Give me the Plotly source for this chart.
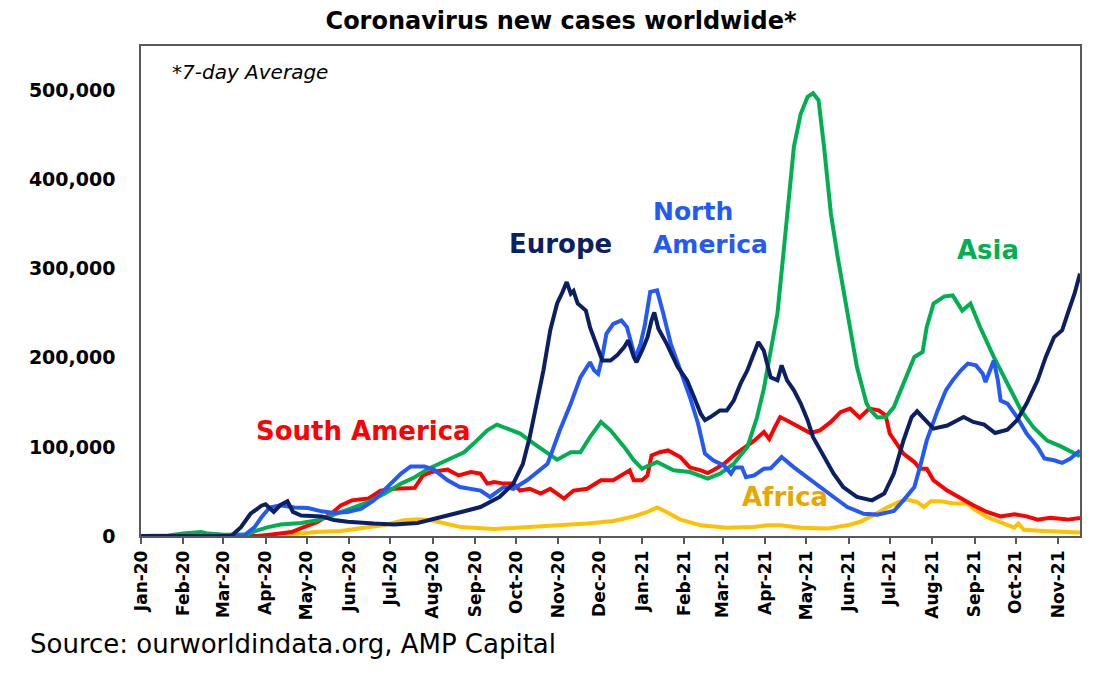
import numpy as np
import pandas as pd
import plotly.graph_objects as go

# 7-day average new cases, values in thousands, x as days since 1 Jan 2020
START = pd.Timestamp("2020-01-01")

europe_day = [0, 66, 73, 80, 88, 91, 97, 102, 107, 111, 117, 132, 141, 151, 170, 185, 202, 219, 234, 248,
              262, 272, 279, 284, 289, 294, 299, 304, 308, 311, 314, 316, 319, 325, 328, 333, 337, 343, 348, 353,
              356, 360, 362, 366, 370, 373, 375, 378, 384, 392, 399, 404, 409, 412, 416, 423, 428, 433, 438, 443,
              448, 451, 455, 460, 465, 468, 472, 477, 482, 487, 491, 499, 506, 513, 523, 534, 543, 550, 557, 563,
              567, 572, 579, 589, 601, 608, 616, 624, 633, 640, 647, 655, 661, 667, 673, 677, 682, 686]
europe_val = [0, 0, 10, 25, 34, 35.5, 27, 35, 39, 27, 23, 22, 18, 16, 14, 13, 14.6, 20.6, 27, 32.5,
              43.8, 58.8, 81, 111, 148.6, 186, 231, 261, 274, 285, 272, 275, 261, 253, 234.5, 212, 197, 197, 203, 212,
              219.6, 201, 195, 208, 223, 242, 251, 232.7, 216, 190, 174.7, 156, 137, 130, 133.5, 141, 141, 152, 171, 186,
              204.7, 217.7, 208, 178, 174.7, 191.5, 174.7, 163.5, 148.6, 130, 111, 88.8, 70, 55, 43.8, 40, 47.6, 70, 107, 133.5,
              140, 131.7, 120.5, 124, 133.5, 128, 125, 115.6, 119.4, 130, 148.6, 174.7, 201, 223, 231, 249.6, 272, 294.5]

na_day = [0, 75, 83, 88, 94, 102, 112, 122, 132, 141, 151, 161, 170, 180, 190, 197, 207, 214, 224, 233,
          248, 255, 265, 272, 282, 297, 306, 314, 321, 328, 331, 334, 337, 340, 345, 351, 355, 359, 361, 365,
          368, 372, 377, 381, 387, 394, 401, 407, 412, 418, 426, 431, 434, 439, 442, 448, 455, 460, 468, 477,
          487, 496, 506, 516, 528, 538, 550, 557, 565, 569, 574, 582, 588, 593, 599, 604, 610, 615, 617, 623,
          626, 628, 633, 640, 647, 655, 660, 667, 673, 679, 686]
na_val = [0, 0, 10, 21, 32, 34.4, 32, 31.4, 27.7, 25.8, 27, 30.7, 40, 55, 70, 78, 78, 74.5, 62.5, 55,
          51, 43.8, 55, 53, 62.5, 81, 118.6, 148.6, 178, 195, 186, 182, 201, 227, 238, 242, 234.5, 212, 199, 216,
          236, 274, 275.7, 253, 216, 186, 156, 126, 92.5, 85, 79, 70, 77, 77, 66, 68, 75.6, 76, 88.6, 77,
          66, 55, 43.8, 32.5, 25, 24, 28, 40, 55, 77, 107, 141, 163.5, 174.7, 186, 193.5, 191.5, 182, 172.8, 197,
          174.7, 152, 148.6, 133.5, 115, 100, 87, 85, 82, 87, 96]

asia_day = [0, 20, 31, 44, 49, 61, 78, 85, 93, 102, 117, 129, 141, 154, 166, 178, 190, 200, 210, 219,
            229, 236, 243, 253, 260, 270, 277, 287, 297, 304, 314, 321, 328, 336, 343, 353, 360, 366, 377, 389,
            401, 414, 423, 433, 443, 450, 455, 460, 465, 471, 477, 482, 487, 491, 495, 499, 504, 509, 516, 523,
            530, 533, 538, 544, 550, 557, 565, 571, 574, 579, 587, 593, 600, 606, 613, 623, 633, 643, 652, 662,
            672, 686]
asia_val = [0, 0.5, 2.7, 4.5, 2.7, 1.5, 2, 6.4, 10, 12.8, 14.6, 17.6, 24, 30.7, 38, 47.6, 58.8, 66, 75.6, 82,
            89.4, 94, 103.7, 118.6, 125, 118.6, 115, 103.7, 92.5, 85.7, 94, 94, 111, 128, 118.6, 100, 85, 75.6, 83, 73.7,
            71.8, 64.4, 70, 81, 100, 133, 165, 205, 250, 343, 437, 474, 493, 497, 489, 437, 362, 313, 250, 190,
            149, 141, 133, 133.5, 144.7, 171, 201, 206.5, 234.5, 261, 269, 270, 253, 261, 234.5, 201, 171, 141, 122, 107,
            100.6, 89.4]

sa_day = [0, 85, 97, 110, 119, 129, 139, 146, 154, 166, 175, 185, 200, 206, 212, 224, 232, 241, 248, 253,
          258, 265, 272, 277, 284, 292, 299, 309, 316, 326, 336, 345, 353, 357, 360, 366, 370, 373, 379, 385,
          394, 401, 409, 414, 418, 426, 433, 440, 448, 455, 459, 463, 467, 474, 482, 489, 496, 504, 511, 518,
          525, 532, 539, 544, 547, 552, 557, 565, 569, 574, 579, 589, 599, 608, 618, 628, 638, 647, 655, 664,
          677, 686]
sa_val = [0, 0, 2, 4.5, 10, 15.7, 25, 34.4, 40, 42, 51, 53, 54, 68, 71.8, 74.5, 68, 71.8, 70, 58.8,
          60.6, 58.8, 58.8, 51, 53, 47.6, 53, 42, 51, 53, 62.5, 62.5, 70, 73.7, 62.5, 62.5, 68, 90.5, 94, 96,
          88.6, 77, 73.7, 70.7, 73.7, 81, 90.5, 98, 107, 116.7, 109, 122, 133.5, 128, 122, 115.6, 118.6, 128, 139, 143,
          132.8, 143, 141, 135.4, 115, 103.7, 92.5, 83, 75.6, 75.6, 62.5, 51, 42, 34.4, 27, 22, 24.4, 22, 18.4, 20.6,
          18.4, 20.2]

africa_day = [0, 95, 110, 127, 146, 166, 180, 192, 202, 212, 224, 234, 258, 282, 306, 326, 345, 360, 370, 377,
              384, 394, 409, 428, 448, 457, 467, 482, 501, 516, 525, 535, 545, 555, 560, 567, 572, 577, 584, 594,
              604, 608, 618, 628, 638, 641, 645, 660, 686]
africa_val = [0, 0, 1.5, 4.5, 5.6, 9.4, 13, 17.6, 18.7, 17.6, 13, 10, 7.9, 10, 12, 14, 16.8, 22, 27, 32,
              27, 18.4, 12, 9.4, 10, 12, 12, 9.4, 8.3, 12, 15.7, 23.2, 32, 39, 41, 38, 32.5, 39, 39, 36.4,
              36.4, 30.7, 21.3, 15, 9.4, 14, 7, 5.6, 3.8]

y_ticks = [0, 100000, 200000, 300000, 400000, 500000]

# colours
EUROPE = '#0B1F65'
NAMERICA = '#2459F5'
ASIA = '#00B050'
SAMERICA = '#FF0000'
AFRICA = '#FFC000'
AFRICA_TEXT = '#E6A800'
FONT = 'DejaVu Sans'

# page body margin pushes the figure down/right, so shrink the figure to fit the window
OFF = 8
W, H = 1105 - OFF, 683 - OFF
L, R, T, B = 141 - OFF, 25, 46 - OFF, 147


def px_x(x):
    # window pixel -> paper coordinate
    return (x - OFF - L) / (W - L - R)


def px_y(y):
    return (H - B - (y - OFF)) / (H - T - B)


def dates(days):
    return START + pd.to_timedelta(days, unit='D')


series = [
    ('Africa', africa_day, africa_val, AFRICA),
    ('South America', sa_day, sa_val, SAMERICA),
    ('Asia', asia_day, asia_val, ASIA),
    ('North America', na_day, na_val, NAMERICA),
    ('Europe', europe_day, europe_val, EUROPE),
]

fig = go.Figure()
for name, d, v, c in series:
    fig.add_trace(go.Scatter(x=dates(d), y=np.array(v) * 1000, mode='lines', name=name,
                             line=dict(color=c, width=4), hoverinfo='x+y+name'))

labels = [
    ('<i>*7-day Average</i>', 170, 72, 'black', 20, 'left', False),
    ('Europe', 560, 244, EUROPE, 26, 'center', True),
    ('North<br>America', 651, 228, NAMERICA, 25, 'left', True),
    ('Asia', 988, 250, ASIA, 26, 'center', True),
    ('South America', 363, 431, SAMERICA, 26, 'center', True),
    ('Africa', 785, 497, AFRICA_TEXT, 26, 'center', True),
]
for text, x, y, col, size, anchor, bold in labels:
    fig.add_annotation(text=f'<b>{text}</b>' if bold else text, x=px_x(x), y=px_y(y),
                       xref='paper', yref='paper', xanchor=anchor, yanchor='middle', align=anchor,
                       showarrow=False, font=dict(family=FONT, size=size, color=col))

fig.add_annotation(text='Source: ourworldindata.org, AMP Capital', x=px_x(28), y=px_y(644),
                   xref='paper', yref='paper', xanchor='left', yanchor='middle', showarrow=False,
                   font=dict(family=FONT, size=26, color='black'))

fig.update_layout(
    title=dict(text='<b>Coronavirus new cases worldwide*</b>', x=(561 - OFF) / W, y=1,
               xanchor='center', yanchor='top', xref='container', yref='container',
               pad=dict(t=4, b=0),
               font=dict(family=FONT, size=24, color='black')),
    width=W, height=H,
    margin=dict(l=L, r=R, t=T, b=B),
    plot_bgcolor='white', paper_bgcolor='white',
    showlegend=False,
    font=dict(family=FONT, color='black'),
)
fig.update_xaxes(type='date', range=[START, dates(686)], dtick='M1', tick0='2020-01-01',
                 tickformat='%b-%y', tickangle=-90, ticks='outside', ticklen=6, tickwidth=1.5,
                 tickcolor='#595959', showline=True, linecolor='#595959', linewidth=1.5, mirror=True,
                 showgrid=False, zeroline=False,
                 tickfont=dict(family=FONT, size=17, color='black', weight='bold'))
fig.update_yaxes(range=[0, 550000], tickvals=y_ticks, tickformat=',', ticks='', showline=True,
                 linecolor='#595959', linewidth=1.5, mirror=True, showgrid=False, zeroline=False,
                 ticklabelstandoff=20,
                 tickfont=dict(family=FONT, size=19, color='black', weight='bold'))

fig.write_html('out.html')
